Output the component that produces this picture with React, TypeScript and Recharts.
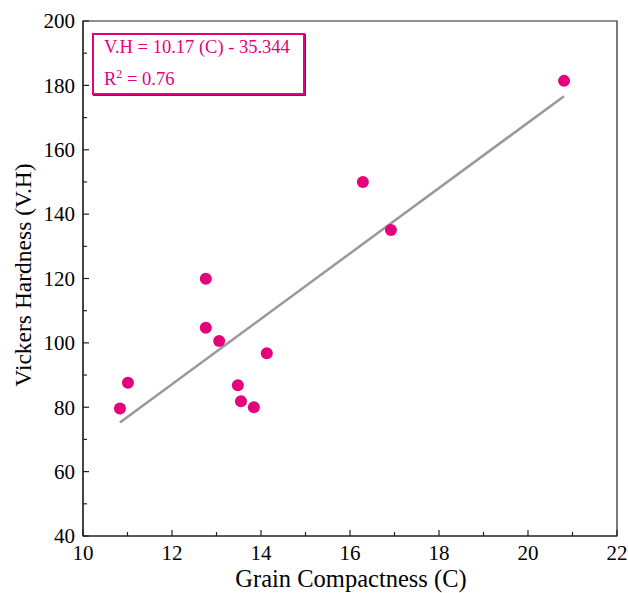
import React from "react";
import {
  ComposedChart,
  Scatter,
  XAxis,
  YAxis,
  ReferenceArea,
} from "recharts";

const compactness = [10.83, 11.01, 12.76, 12.76, 13.06, 13.48, 13.55, 13.84, 14.13, 16.29, 16.92, 20.81];
const hardness = [79.6, 87.6, 119.9, 104.7, 100.6, 86.8, 81.9, 80.0, 96.8, 150.0, 135.1, 181.4];

const xTicks = [10, 11, 12, 13, 14, 15, 16, 17, 18, 19, 20, 21, 22];
const yTicks = [40, 50, 60, 70, 80, 90, 100, 110, 120, 130, 140, 150, 160, 170, 180, 190, 200];

const points = compactness.map((c, i) => ({ x: c, y: hardness[i] }));

const FONT = "'Liberation Serif', 'Times New Roman', serif";
const PINK = "#e5007d";

const XTick = (props: any) => {
  const { x, y, payload } = props;
  const v = payload.value;
  const major = v % 2 === 0;
  return (
    <g>
      <line x1={x} x2={x} y1={y} y2={y - (major ? 6 : 4)} stroke="#222" strokeWidth={1.2} />
      {major && (
        <text x={x} y={y + 24} textAnchor="middle" style={{ fontFamily: FONT, fontSize: 21 }} fill="#000">
          {v}
        </text>
      )}
    </g>
  );
};

const YTick = (props: any) => {
  const { x, y, payload } = props;
  const v = payload.value;
  const major = v % 20 === 0;
  return (
    <g>
      <line x1={x} x2={x + (major ? 6 : 4)} y1={y} y2={y} stroke="#222" strokeWidth={1.2} />
      {major && (
        <text x={x - 8} y={y} dy="0.35em" textAnchor="end" style={{ fontFamily: FONT, fontSize: 21 }} fill="#000">
          {v}
        </text>
      )}
    </g>
  );
};

const Dot = (props: any) => <circle cx={props.cx} cy={props.cy} r={6} fill={PINK} />;

export default function App() {
  return (
    <div style={{ position: "absolute", left: 0, top: 0, width: 628, height: 593, background: "#fff", fontFamily: FONT }}>
      <ComposedChart width={628} height={593} margin={{ top: 21, right: 11, bottom: 0, left: 0 }} style={{ fontFamily: FONT }}>
        <XAxis
          dataKey="x"
          type="number"
          domain={[10, 22]}
          ticks={xTicks}
          interval={0}
          height={57}
          tickSize={0}
          tickMargin={0}
          tickLine={false}
          tick={<XTick />}
          axisLine={{ stroke: "#222", strokeWidth: 1.2 }}
          label={{
            content: () => (
              <text x={351} y={587} textAnchor="middle" style={{ fontFamily: FONT, fontSize: 24.5 }} fill="#000">
                Grain Compactness (C)
              </text>
            ),
          }}
        />
        <YAxis
          dataKey="y"
          type="number"
          domain={[40, 200]}
          ticks={yTicks}
          interval={0}
          width={83}
          tickSize={0}
          tickMargin={0}
          tickLine={false}
          tick={<YTick />}
          axisLine={{ stroke: "#222", strokeWidth: 1.2 }}
          label={{
            content: () => (
              <text
                transform="translate(31,275) rotate(-90)"
                textAnchor="middle"
                style={{ fontFamily: FONT, fontSize: 23.5 }}
                fill="#000"
              >
                Vickers Hardness (V.H)
              </text>
            ),
          }}
        />
        <ReferenceArea x1={10} x2={22} y1={40} y2={200} fill="none" stroke="#222" strokeWidth={1.2} />
        <Scatter
          data={points}
          fill={PINK}
          shape={<Dot />}
          line={{ stroke: "#999", strokeWidth: 2.5 }}
          lineType="fitting"
          isAnimationActive={false}
        />
      </ComposedChart>
      <div
        style={{
          position: "absolute",
          left: 92,
          top: 33,
          width: 209,
          height: 58,
          border: `2px solid ${PINK}`,
          boxShadow: "1px 1px 0 #a8005c",
          fontSize: 18.5,
          color: PINK,
          background: "#fff",
        }}
      >
        <div style={{ position: "absolute", left: 10, top: 2, whiteSpace: "nowrap" }}>V.H = 10.17 (C) - 35.344</div>
        <div style={{ position: "absolute", left: 10, top: 32, whiteSpace: "nowrap" }}>
          R<sup style={{ fontSize: 12, verticalAlign: "7px" }}>2</sup> = 0.76
        </div>
      </div>
    </div>
  );
}
